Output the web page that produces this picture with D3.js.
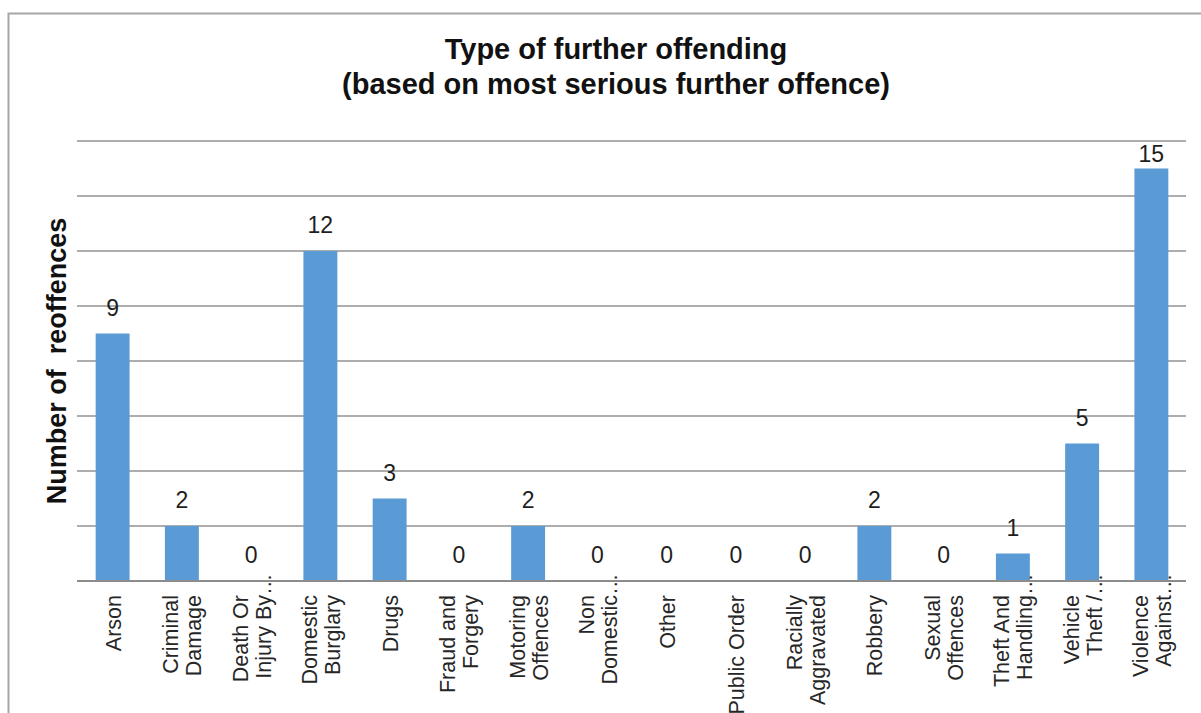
<!DOCTYPE html>
<html>
<head>
<meta charset="utf-8">
<script src="https://cdn.jsdelivr.net/npm/d3@7"></script>
<style>
  html, body { margin: 0; padding: 0; background: #fff; }
  svg { display: block; }
  text { font-family: "Liberation Sans", Arial, sans-serif; }
</style>
</head>
<body>
<svg id="chart" width="1201" height="713"></svg>
<script>
const titleLines = ["Type of further offending", "(based on most serious further offence)"];
const yAxisTitle = "Number of  reoffences";
const categories = [
  ["Arson"],
  ["Criminal", "Damage"],
  ["Death Or", "Injury By…"],
  ["Domestic", "Burglary"],
  ["Drugs"],
  ["Fraud and", "Forgery"],
  ["Motoring", "Offences"],
  ["Non", "Domestic…"],
  ["Other"],
  ["Public Order"],
  ["Racially", "Aggravated"],
  ["Robbery"],
  ["Sexual", "Offences"],
  ["Theft And", "Handling…"],
  ["Vehicle", "Theft /…"],
  ["Violence", "Against…"]
];
const values = [9, 2, 0, 12, 3, 0, 2, 0, 0, 0, 0, 2, 0, 1, 5, 15];
const yTicks = [0, 2, 4, 6, 8, 10, 12, 14, 16];

const svg = d3.select("#chart");
const margin = { left: 78, right: 15, top: 141, bottom: 132 };
const W = 1201, H = 713;
const x0 = margin.left, x1 = W - margin.right;
const yTop = margin.top, yBot = H - margin.bottom;

// outer frame
svg.append("rect")
  .attr("x", 8.5).attr("y", 13.5)
  .attr("width", 1300).attr("height", 800)
  .attr("fill", "none").attr("stroke", "#a6a6a6").attr("stroke-width", 2);

const keys = categories.map((d, i) => i);
const x = d3.scaleBand().domain(keys).range([x0, x1]).paddingInner(0.51).paddingOuter(0.255);
const y = d3.scaleLinear().domain([0, d3.max(yTicks)]).range([yBot, yTop]);

// gridlines
svg.append("g").selectAll("line")
  .data(yTicks)
  .join("line")
  .attr("x1", x0 - 1).attr("x2", x1)
  .attr("y1", d => y(d)).attr("y2", d => y(d))
  .attr("stroke", "#929292").attr("stroke-width", 1.5);

// bars
svg.append("g").selectAll("rect")
  .data(values)
  .join("rect")
  .attr("x", (d, i) => x(i))
  .attr("width", x.bandwidth())
  .attr("y", d => y(d))
  .attr("height", d => yBot - y(d))
  .attr("fill", "#5b9bd5");

// axis baseline
svg.append("line")
  .attr("x1", x0 - 1).attr("x2", x1)
  .attr("y1", yBot).attr("y2", yBot)
  .attr("stroke", "#8c8c8c").attr("stroke-width", 1.8);

// value labels
svg.append("g").selectAll("text")
  .data(values)
  .join("text")
  .attr("x", (d, i) => x(i) + x.bandwidth() / 2)
  .attr("y", d => Math.max(y(d) - 18, yTop + 21))
  .attr("text-anchor", "middle")
  .attr("font-size", 23)
  .attr("fill", "#1e1e1e")
  .text(d => d);

// category labels
const lineGap = 23;
const catG = svg.append("g");
categories.forEach((lines, i) => {
  const cx = x(i) + x.bandwidth() / 2;
  const g = catG.append("g").attr("transform", `translate(${cx},${yBot + 14}) rotate(-90)`);
  const n = lines.length;
  lines.forEach((ln, j) => {
    const off = 8 + (j - (n - 1) / 2) * lineGap;
    const ell = ln.endsWith("…");
    const main = ell ? ln.slice(0, -1) : ln;
    g.append("text")
      .attr("x", 0).attr("y", off)
      .attr("text-anchor", "end")
      .attr("font-size", 21.5)
      .attr("fill", "#262626")
      .text(main);
    if (ell) {
      g.append("text")
        .attr("x", 0).attr("y", off)
        .attr("text-anchor", "start")
        .attr("font-size", 21.5)
        .attr("fill", "#262626")
        .text("…");
    }
  });
});

// title
svg.append("g").selectAll("text")
  .data(titleLines)
  .join("text")
  .attr("x", 616)
  .attr("y", (d, i) => 59 + i * 35)
  .attr("text-anchor", "middle")
  .attr("font-size", 29)
  .attr("font-weight", "bold")
  .attr("fill", "#111")
  .text(d => d);

// y axis title
svg.append("text")
  .attr("transform", `translate(66,${(yTop + yBot) / 2}) rotate(-90)`)
  .attr("text-anchor", "middle")
  .attr("font-size", 27)
  .attr("font-weight", "bold")
  .attr("fill", "#111")
  .style("white-space", "pre")
  .text(yAxisTitle);
</script>
</body>
</html>
